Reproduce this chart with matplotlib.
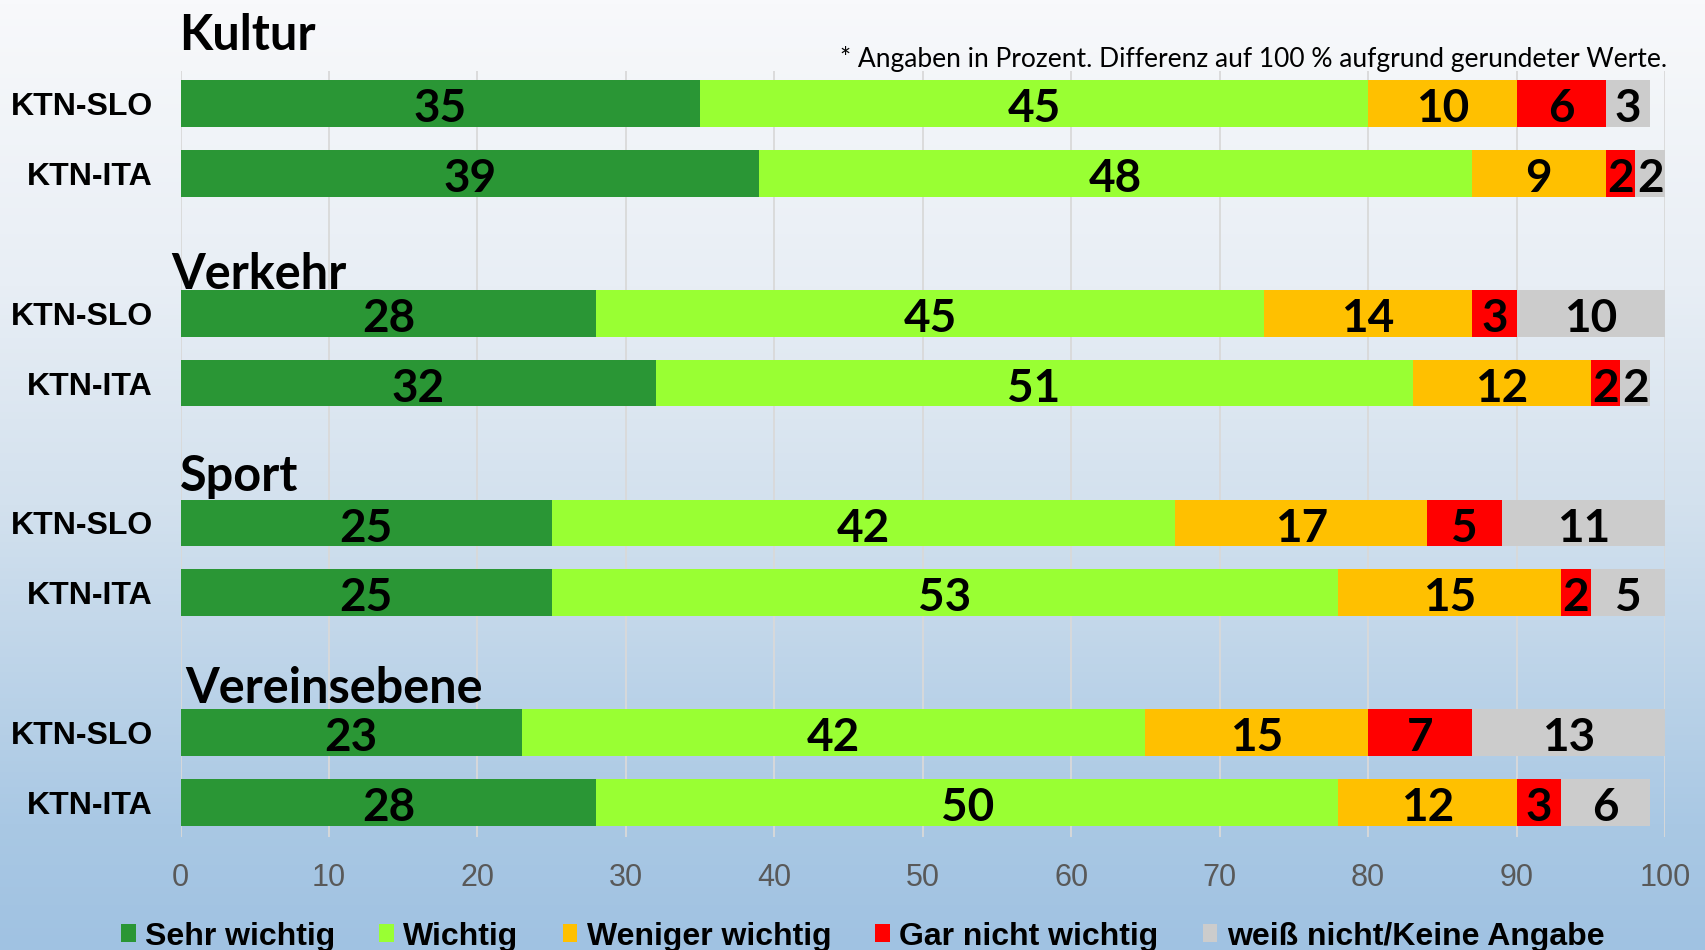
import matplotlib
matplotlib.use("Agg")
import matplotlib.pyplot as plt
import numpy as np
from matplotlib.patches import Patch
from matplotlib.colors import LinearSegmentedColormap

# ---------------- data ----------------
groups = ["Kultur", "Verkehr", "Sport", "Vereinsebene"]
rows = ["KTN-SLO", "KTN-ITA"]
categories = ["Sehr wichtig", "Wichtig", "Weniger wichtig", "Gar nicht wichtig",
              "weiß nicht/Keine Angabe"]
sehr_wichtig = [35, 39, 28, 32, 25, 25, 23, 28]
wichtig = [45, 48, 45, 51, 42, 53, 42, 50]
weniger_wichtig = [10, 9, 14, 12, 17, 15, 15, 12]
gar_nicht = [6, 2, 3, 2, 5, 2, 7, 3]
weiss_nicht = [3, 2, 10, 2, 11, 5, 13, 6]
xticks = [0, 10, 20, 30, 40, 50, 60, 70, 80, 90, 100]
note = "* Angaben in Prozent. Differenz auf 100 % aufgrund gerundeter Werte."

colors = ["#2A9635", "#99FF33", "#FFC000", "#FF0000", "#CCCCCC"]
series = [sehr_wichtig, wichtig, weniger_wichtig, gar_nicht, weiss_nicht]

# row positions: two rows per group, one empty slot between groups
ypos = []
for g in range(len(groups)):
    ypos += [g * 3, g * 3 + 1]
ypos = np.array(ypos, dtype=float)
row_labels = rows * len(groups)

W, H = 1705, 950
fig = plt.figure(figsize=(W / 100, H / 100), dpi=100)

# gradient background
bg = fig.add_axes([0, 0, 1, 1], zorder=-10)
cmap = LinearSegmentedColormap.from_list(
    "bg", [(0.0, "#F8F9FB"), (0.30, "#E8EEF5"), (0.53, "#D3E1EE"),
           (0.87, "#A9C8E4"), (1.0, "#A0C2E2")])
grad = np.linspace(0, 1, 256).reshape(-1, 1)
bg.imshow(grad, aspect="auto", cmap=cmap, extent=[0, 1, 1, 0])
bg.set_axis_off()

ax = fig.add_axes([180.5 / W, 1 - 837 / H, (1665 - 180.5) / W, (837 - 70.7) / H])
ax.patch.set_alpha(0)

left = np.zeros(len(ypos))
for vals, col in zip(series, colors):
    vals = np.array(vals, dtype=float)
    ax.barh(ypos, vals, left=left, height=0.67, color=col, zorder=3,
            edgecolor="none")
    for y, l, v in zip(ypos, left, vals):
        ax.text(l + v / 2, y + 0.08, f"{int(v)}", ha="center", va="center",
                fontsize=33, fontweight="bold", family=["Lato", "DejaVu Sans"],
                color="black", zorder=5)
    left += vals

ax.set_xlim(0, 100)
ax.set_ylim(10.49, -0.466)
ax.set_xticks(xticks)
ax.set_xticklabels([str(t) for t in xticks], fontsize=22, color="#595959",
                   family=["Liberation Sans", "DejaVu Sans"])
ax.tick_params(axis="x", length=0, pad=19)
ax.set_yticks(ypos)
ax.set_yticklabels(row_labels, fontsize=23, fontweight="bold",
                   family=["Liberation Sans", "DejaVu Sans"])
ax.tick_params(axis="y", length=0, pad=20)
ax.grid(axis="x", color="#D9D9D9", linewidth=1.3, zorder=0)
ax.set_axisbelow(True)
for s in ax.spines.values():
    s.set_visible(False)

# group titles
title_pos = [(-0.07, -0.76), (-0.59, 2.66), (-0.07, 5.54), (0.3, 8.57)]
for name, (tx, ty) in zip(groups, title_pos):
    ax.text(tx, ty, name, ha="left", va="baseline", fontsize=35,
            fontweight="bold", family=["Lato", "DejaVu Sans"], clip_on=False,
            zorder=6)

fig.text(1667 / W, 1 - 67.4 / H, note, ha="right", va="baseline", fontsize=19,
         family=["Lato", "DejaVu Sans"], color="black")

handles = [Patch(facecolor=c, edgecolor="none") for c in colors]
leg = fig.legend(handles, categories, loc="center", bbox_to_anchor=(0.506, 0.014),
                 ncol=5, frameon=False, handlelength=0.45, handleheight=0.5,
                 handletextpad=0.3, columnspacing=1.38, borderpad=0,
                 prop={"family": ["Liberation Sans", "DejaVu Sans"],
                       "weight": "bold", "size": 23})

fig.savefig("out.png", dpi=100)
